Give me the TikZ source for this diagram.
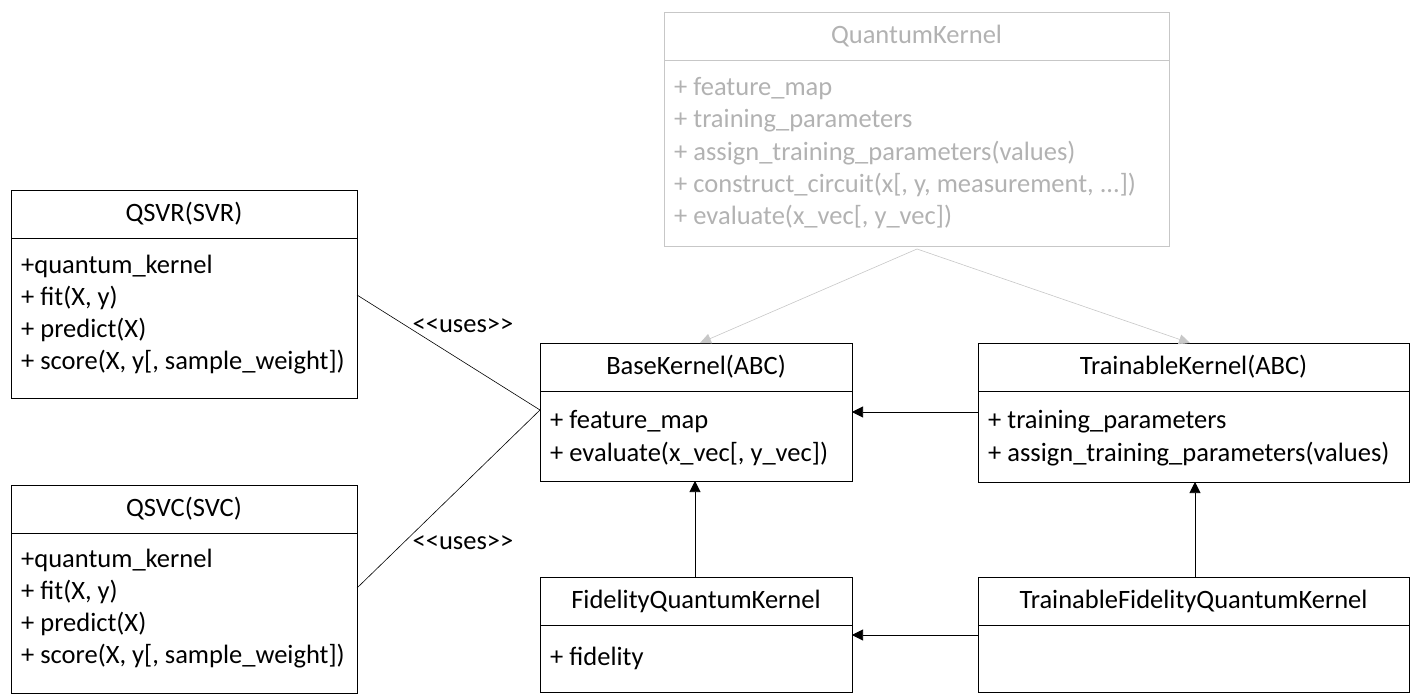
\documentclass[tikz,border=0pt]{standalone}
\usepackage{fontspec}
\setmainfont{Carlito}
\usetikzlibrary{arrows.meta}
\newcommand{\umlbox}[8]{% name, x1,y1,x2,y2, divider, title, style
  \pgfmathsetmacro{\bw}{#4-#2}\pgfmathsetmacro{\bh}{#5-#3}%
  \pgfmathsetmacro{\tx}{(#2+#4)/2}\pgfmathsetmacro{\ty}{(#3+#6)/2}%
  \node[#8, minimum width=\bw pt, minimum height=\bh pt] (#1) at (#2,#3) {};
  \draw[#8] (#2,#6) -- (#4,#6);
  \node[ttl] (#1t) at (\tx,\ty) {#7};}
\begin{document}
\begin{tikzpicture}[x=1pt,y=-1pt,
  box/.style={draw, line width=0.9pt, anchor=north west, inner sep=0pt},
  gbox/.style={box, draw=black!22},
  txt/.style={anchor=west, inner sep=0pt, font=\fontsize{26.5}{30}\selectfont},
  ttl/.style={inner sep=0pt, font=\fontsize{26.5}{30}\selectfont},
  inh/.style={-{Triangle[length=11pt,width=11pt]}, line width=0.6pt},
  ginh/.style={inh, draw=black!22, -{Triangle[length=11pt,width=10pt,fill=black!22]}}]
\useasboundingbox (0,0) rectangle (1414,700);
\umlbox{qk}{664}{12}{1169}{246}{60}{\textcolor{black!30}{QuantumKernel}}{gbox}
\umlbox{qsvr}{11}{190}{357}{398}{238}{QSVR(SVR)}{box}
\umlbox{qsvc}{11}{485}{357}{693}{533}{QSVC(SVC)}{box}
\umlbox{base}{540}{343}{852}{481}{391}{BaseKernel(ABC)}{box}
\umlbox{tk}{978}{343}{1409}{482}{391}{TrainableKernel(ABC)}{box}
\umlbox{fqk}{540}{577}{852}{692}{625}{FidelityQuantumKernel}{box}
\umlbox{tfqk}{978}{577}{1409}{692}{625}{TrainableFidelityQuantumKernel}{box}
\begin{scope}[every node/.style={txt, text=black!30}]
\node (q1) at (674,89) {+ feature\_map};
\node (q2) at (674,121) {+ training\_parameters};
\node (q3) at (674,153) {+ assign\_training\_parameters(values)};
\node (q4) at (674,185) {+ construct\_circuit(x[, y, measurement, ...])};
\node (q5) at (674,217) {+ evaluate(x\_vec[, y\_vec])};
\end{scope}
\begin{scope}[every node/.style={txt}]
\node (r1) at (21,266) {+quantum\_kernel};
\node (r2) at (21,298) {+ fit(X, y)};
\node (r3) at (21,330) {+ predict(X)};
\node (r4) at (21,362) {+ score(X, y[, sample\_weight])};
\node (c1) at (21,560) {+quantum\_kernel};
\node (c2) at (21,592) {+ fit(X, y)};
\node (c3) at (21,624) {+ predict(X)};
\node (c4) at (21,656) {+ score(X, y[, sample\_weight])};
\node (b1) at (550,422) {+ feature\_map};
\node (b2) at (550,454) {+ evaluate(x\_vec[, y\_vec])};
\node (t1) at (988,422) {+ training\_parameters};
\node (t2) at (988,454) {+ assign\_training\_parameters(values)};
\node (f1) at (550,658) {+ fidelity};
\end{scope}
\node[ttl] (u1) at (463,326) {\mbox{<}\mbox{<}uses\mbox{>}\mbox{>}};
\node[ttl] (u2) at (463,543) {\mbox{<}\mbox{<}uses\mbox{>}\mbox{>}};
\coordinate (bw) at (540,410);
\coordinate (sr) at (357,295);
\coordinate (sc) at (357,588);
\draw[line width=0.6pt] (sr) -- (bw);
\draw[line width=0.6pt] (sc) -- (bw);
\coordinate (qs) at (917,249);
\coordinate (bn) at (700,343);
\coordinate (tn) at (1190,343);
\draw[ginh] (qs) -- (bn);
\draw[ginh] (qs) -- (tn);
\coordinate (a1) at (978,412); \coordinate (a2) at (852,412);
\coordinate (a3) at (695,577); \coordinate (a4) at (695,481);
\coordinate (a5) at (1195,577); \coordinate (a6) at (1195,482);
\coordinate (a7) at (978,635); \coordinate (a8) at (852,635);
\draw[inh] (a1) -- (a2);
\draw[inh] (a3) -- (a4);
\draw[inh] (a5) -- (a6);
\draw[inh] (a7) -- (a8);
\end{tikzpicture}
\end{document}
